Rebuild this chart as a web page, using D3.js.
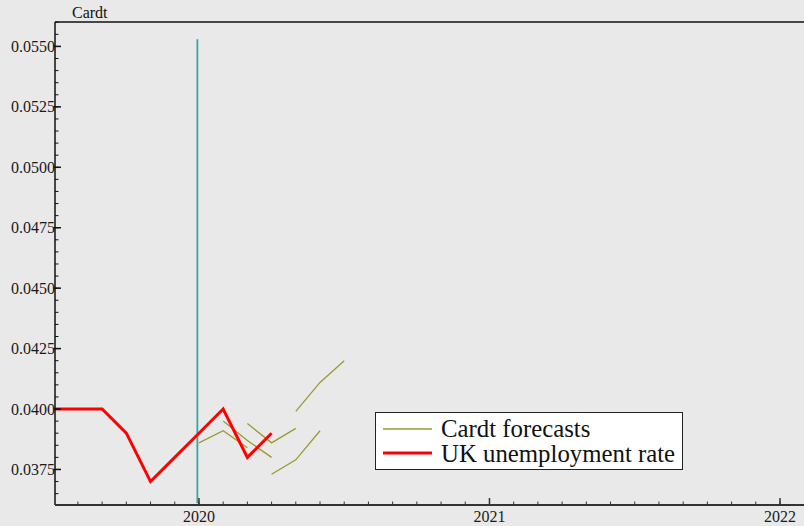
<!DOCTYPE html>
<html>
<head>
<meta charset="utf-8">
<script src="https://cdn.jsdelivr.net/npm/d3@7"></script>
<style>
  html, body { margin: 0; padding: 0; background: #e9e9e9; }
  svg { display: block; font-family: "Liberation Serif", "Times New Roman", serif; }
</style>
</head>
<body>
<svg id="chart" width="804" height="526"></svg>
<script>
// Monthly observations, time as decimal year (month m -> year + (m-1)/12)
const unempMonths = [2019.5, 2019 + 7/12, 2019 + 8/12, 2019 + 9/12, 2019 + 10/12, 2019 + 11/12,
                     2020, 2020 + 1/12, 2020 + 2/12, 2020 + 3/12];
const unempValues = [0.0400, 0.0400, 0.0400, 0.0390, 0.0370, 0.0380, 0.0390, 0.0400, 0.0380, 0.0390];

// Three-month Cardt forecast paths and the month each one starts from
const forecastOrigins = [2020, 2020 + 1/12, 2020 + 2/12, 2020 + 3/12, 2020 + 4/12];
const forecastValues = [
  [0.0386, 0.0391, 0.0384],
  [0.0395, 0.0387, 0.0380],
  [0.0394, 0.0386, 0.0392],
  [0.0373, 0.0379, 0.0391],
  [0.0399, 0.0411, 0.0420]
];

// Vertical marker at the turn of the year
const markerX = [2019.9945, 2019.9945];
const markerY = [0.0553, 0.0361];

const yTicks = [0.0375, 0.0400, 0.0425, 0.0450, 0.0475, 0.0500, 0.0525, 0.0550];
const xTicks = [2020, 2021, 2022];
const legendLabels = ["Cardt forecasts", "UK unemployment rate"];
const titleText = "Cardt";

const svg = d3.select("#chart");
const mLeft = 55, mRight = 804, mTop = 22, mBottom = 505;

const x = d3.scaleLinear().domain([2019.5045, 2022.0826]).range([mLeft, mRight]);
const y = d3.scaleLinear().domain([0.03603, 0.05601]).range([mBottom, mTop]);

const olive = "#9a9a35", red = "#ff0000", teal = "#36a6a6";

svg.append("rect").attr("width", 804).attr("height", 526).attr("fill", "#e9e9e9");

svg.append("clipPath").attr("id", "plotclip")
  .append("rect").attr("x", mLeft).attr("y", mTop).attr("width", mRight - mLeft).attr("height", mBottom - mTop);

const plot = svg.append("g").attr("clip-path", "url(#plotclip)");
const line = d3.line().x(d => x(d[0])).y(d => y(d[1]));

// marker
plot.append("path")
  .attr("d", line(markerX.map((v, i) => [v, markerY[i]])))
  .attr("stroke", teal).attr("stroke-width", 1.8).attr("fill", "none");

// forecast paths, one point per month from each origin
forecastValues.forEach((vals, k) => {
  const pts = vals.map((v, i) => [forecastOrigins[k] + i / 12, v]);
  plot.append("path").attr("d", line(pts))
    .attr("stroke", olive).attr("stroke-width", 1.3).attr("fill", "none");
});

// observed unemployment
plot.append("path")
  .attr("d", line(unempMonths.map((m, i) => [m, unempValues[i]])))
  .attr("stroke", red).attr("stroke-width", 3).attr("fill", "none")
  .attr("stroke-linejoin", "miter");

// frame top
svg.append("line").attr("x1", mLeft).attr("x2", mRight).attr("y1", mTop).attr("y2", mTop)
  .attr("stroke", "#111").attr("stroke-width", 1.5);

// y axis
const yAxis = svg.append("g");
yAxis.append("line").attr("x1", mLeft).attr("x2", mLeft).attr("y1", mTop).attr("y2", mBottom)
  .attr("stroke", "#111").attr("stroke-width", 1.5);
const yMinor = d3.range(0.0365, 0.05601, 0.0005);
yAxis.selectAll(".ymin").data(yMinor).join("line")
  .attr("x1", mLeft).attr("x2", mLeft + 3.5)
  .attr("y1", d => y(d)).attr("y2", d => y(d))
  .attr("stroke", "#111").attr("stroke-width", 1);
yAxis.selectAll(".ymaj").data(yTicks).join("line")
  .attr("x1", mLeft - 1.5).attr("x2", mLeft + 6)
  .attr("y1", d => y(d)).attr("y2", d => y(d))
  .attr("stroke", "#111").attr("stroke-width", 1.5);
yAxis.selectAll(".ylab").data(yTicks).join("text")
  .attr("x", mLeft).attr("y", d => y(d)).attr("dy", "0.35em")
  .attr("text-anchor", "end").attr("font-size", 16).attr("fill", "#1a1a1a")
  .text(d => d.toFixed(4));

// x axis
const xAxis = svg.append("g");
xAxis.append("line").attr("x1", mLeft).attr("x2", mRight).attr("y1", mBottom).attr("y2", mBottom)
  .attr("stroke", "#333").attr("stroke-width", 2);
const xMinor = d3.range(0, 32).map(i => 2019 + 7 / 12 + i / 12).filter(v => v < 2022.08);
xAxis.selectAll(".xmin").data(xMinor).join("line")
  .attr("x1", d => x(d)).attr("x2", d => x(d))
  .attr("y1", mBottom).attr("y2", mBottom - 3.5)
  .attr("stroke", "#333").attr("stroke-width", 1);
xAxis.selectAll(".xmaj").data(xTicks).join("line")
  .attr("x1", d => x(d)).attr("x2", d => x(d))
  .attr("y1", mBottom).attr("y2", mBottom - 7)
  .attr("stroke", "#333").attr("stroke-width", 1.5);
xAxis.selectAll(".xlab").data(xTicks).join("text")
  .attr("x", d => x(d)).attr("y", 522)
  .attr("text-anchor", "middle").attr("font-size", 16).attr("fill", "#1a1a1a")
  .text(d => d);

// title
svg.append("text").attr("x", 72).attr("y", 18).attr("font-size", 16).attr("fill", "#111").text(titleText);

// legend
const lg = svg.append("g");
lg.append("rect").attr("x", 375.5).attr("y", 412.5).attr("width", 307).attr("height", 57)
  .attr("fill", "#ffffff").attr("stroke", "#222").attr("stroke-width", 1);
const legendStyles = [{c: olive, w: 1.3, ly: 429, ty: 437}, {c: red, w: 3, ly: 453, ty: 462}];
legendLabels.forEach((t, i) => {
  const s = legendStyles[i];
  lg.append("line").attr("x1", 383).attr("x2", 432).attr("y1", s.ly).attr("y2", s.ly)
    .attr("stroke", s.c).attr("stroke-width", s.w);
  lg.append("text").attr("x", 441).attr("y", s.ty).attr("font-size", 24.8).attr("fill", "#111").text(t);
});
</script>
</body>
</html>
